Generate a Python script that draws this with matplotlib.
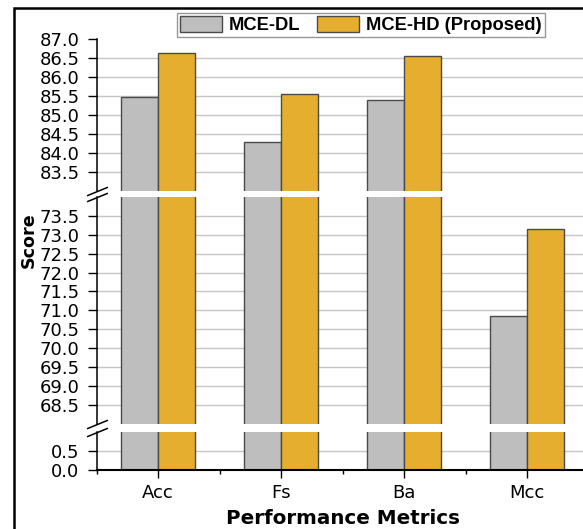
import matplotlib
matplotlib.use("Agg")
import matplotlib.pyplot as plt
from matplotlib.patches import Rectangle
import numpy as np

# ---- data ----
categories = ["Acc", "Fs", "Ba", "Mcc"]
mce_dl = [85.48, 84.28, 85.39, 70.84]
mce_hd = [86.65, 85.55, 86.56, 73.14]
series_names = ["MCE-DL", "MCE-HD (Proposed)"]

# broken y-axis segments (top, middle, bottom)
seg_limits = [(83.0, 87.0), (68.0, 74.0), (0.0, 1.0)]
seg_ticks = [
    [83.5, 84.0, 84.5, 85.0, 85.5, 86.0, 86.5, 87.0],
    [68.5, 69.0, 69.5, 70.0, 70.5, 71.0, 71.5, 72.0, 72.5, 73.0, 73.5],
    [0.0, 0.5],
]
x_label = "Performance Metrics"
y_label = "Score"

# ---- style ----
W, H = 583, 529
gray_c = "#BEBEBE"
gold_c = "#E6AE2F"
edge_c = "#4A4A4A"
grid_c = "#C6C6C6"
bar_w = 0.3

fig = plt.figure(figsize=(W / 100, H / 100), dpi=100)
fig.patch.set_facecolor("white")

left_px, right_px = 96.7, 588.5
seg_px = [(39.3, 190.6), (196.8, 424.0), (432.3, 470.0)]

x = np.arange(len(categories))
axes = []
for i, ((lo, hi), ticks, (ytop, ybot)) in enumerate(zip(seg_limits, seg_ticks, seg_px)):
    ax = fig.add_axes([left_px / W, (H - ybot) / H,
                       (right_px - left_px) / W, (ybot - ytop) / H])
    axes.append(ax)
    ax.set_xlim(-0.5, len(categories) - 0.5)
    ax.set_ylim(lo, hi)
    for t in ticks:
        if lo < t < hi:
            ax.axhline(t, color=grid_c, lw=1.0, zorder=0.5)
    ax.bar(x - bar_w / 2, mce_dl, bar_w, color=gray_c, edgecolor=edge_c,
           linewidth=1.0, zorder=2, label=series_names[0])
    ax.bar(x + bar_w / 2, mce_hd, bar_w, color=gold_c, edgecolor=edge_c,
           linewidth=1.0, zorder=2, label=series_names[1])
    ax.set_yticks(ticks)
    ax.set_yticklabels([f"{t:.1f}" for t in ticks])
    ax.tick_params(axis="y", direction="out", length=6.8, width=1.0,
                   pad=5.5, labelsize=13, colors="black")
    for s in ["top", "right"]:
        ax.spines[s].set_visible(False)
    ax.spines["left"].set_linewidth(1.1)
    ax.set_facecolor("none")
    if i < 2:
        ax.spines["bottom"].set_visible(False)
        ax.tick_params(axis="x", bottom=False, labelbottom=False)
    else:
        ax.spines["bottom"].set_linewidth(1.5)
        ax.set_xticks(x)
        ax.set_xticklabels(categories)
        ax.set_xticks(np.arange(-0.5, len(categories) + 0.5, 1.0), minor=True)
        ax.tick_params(axis="x", which="major", direction="out", length=6,
                       width=1.0, pad=4, labelsize=13)
        ax.tick_params(axis="x", which="minor", direction="out", length=3,
                       width=1.0)

# break marks on the left spine
mk = dict(marker=[(-1, -0.41), (1, 0.41)], markersize=15, linestyle="none",
          color="black", mec="black", mew=1.1, clip_on=False, zorder=5)
axes[0].plot([0], [0], transform=axes[0].transAxes, **mk)
axes[1].plot([0], [1], transform=axes[1].transAxes, **mk)
axes[1].plot([0], [0], transform=axes[1].transAxes, **mk)
axes[2].plot([0], [1], transform=axes[2].transAxes, **mk)

for ax in axes:
    for lbl in ax.get_yticklabels() + ax.get_xticklabels():
        lbl.set_family("DejaVu Sans")

# axis labels
fig.text(342.5 / W, 1 - 524 / H, x_label, ha="center", va="baseline",
         fontsize=14.3, fontweight="bold", family="DejaVu Sans")
fig.text(33.3 / W, 1 - 240.5 / H, y_label, ha="center", va="baseline",
         rotation=90, rotation_mode="anchor", fontsize=12.6,
         fontweight="bold", family="DejaVu Sans")

# legend
handles, labels = axes[0].get_legend_handles_labels()
leg = fig.legend(handles, labels, loc="center",
                 bbox_to_anchor=(361 / W, 1 - 25.3 / H), ncol=2,
                 frameon=True, fancybox=False, edgecolor="#7F7F7F",
                 prop=dict(family="Liberation Sans", weight="bold", size=13.2),
                 handlelength=2.3, handleheight=0.95, handletextpad=0.38,
                 columnspacing=0.9, borderpad=0.15, borderaxespad=0)
leg.get_frame().set_linewidth(1.0)

# outer frame of the screenshot
fig.add_artist(Rectangle((13.8 / W, -0.2), 1.5, 1 - 7.8 / H + 0.2,
                         transform=fig.transFigure, fill=False,
                         edgecolor="black", linewidth=1.8))

fig.savefig("out.png", dpi=100)
